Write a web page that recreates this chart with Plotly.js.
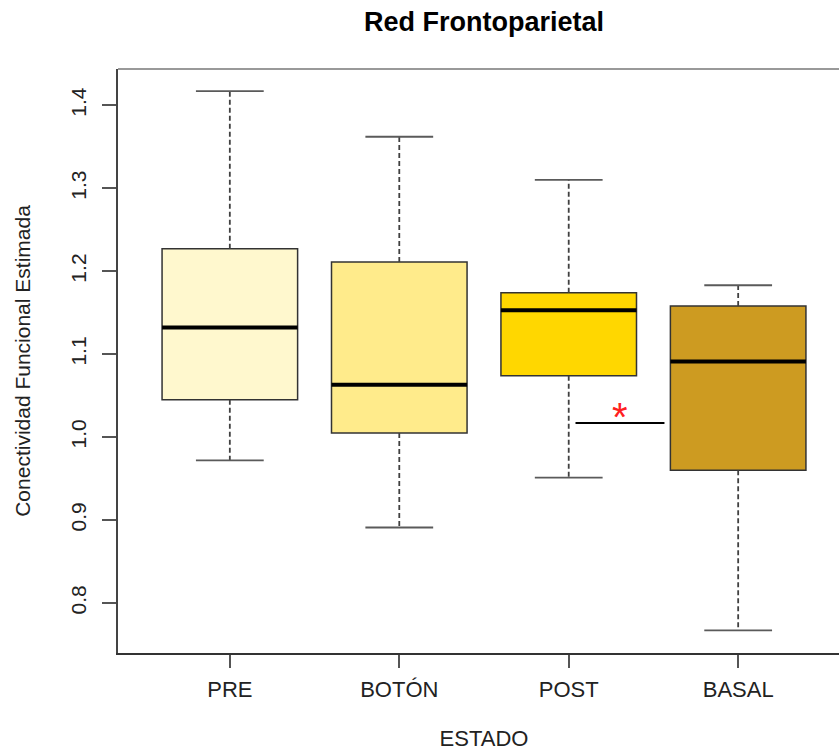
<!DOCTYPE html>
<html>
<head>
<meta charset="utf-8">
<script src="https://cdn.plot.ly/plotly-3.0.1.min.js"></script>
<style>
  html, body { margin: 0; padding: 0; overflow: hidden; background: #fff; }
  #chart { width: 860px; height: 752px; }
</style>
</head>
<body>
<div id="chart"></div>
<script>
// ---- data ----
const categories   = ['PRE', 'BOTÓN', 'POST', 'BASAL'];
const lowerWhisker = [0.972, 0.891, 0.951, 0.767];
const q1           = [1.045, 1.005, 1.074, 0.960];
const median       = [1.132, 1.063, 1.153, 1.091];
const q3           = [1.227, 1.211, 1.174, 1.158];
const upperWhisker = [1.417, 1.362, 1.310, 1.183];
const yTickValues  = [0.8, 0.9, 1.0, 1.1, 1.2, 1.3, 1.4];
// significance marker between POST and BASAL
const sigFrom = 3.04, sigTo = 3.565, sigY = 1.017, sigLabel = '*';

// ---- styles ----
const boxColors = ['#FFF8CE', '#FFEB8B', '#FFD700', '#CD9B21'];
const FONT = 'Liberation Sans, Arial, Helvetica, sans-serif';
const boxHalf = 0.4, capHalf = 0.2;

const xPos = categories.map((c, i) => i + 1);

// boxes as bars from q1 to q3
const boxes = {
  type: 'bar',
  x: xPos,
  base: q1,
  y: q3.map((v, i) => v - q1[i]),
  width: boxHalf * 2,
  marker: { color: boxColors, line: { color: '#333333', width: 1.5 } },
  hoverinfo: 'skip',
  showlegend: false
};

// whiskers (dashed)
const wx = [], wy = [];
xPos.forEach((x, i) => {
  wx.push(x, x, null, x, x, null);
  wy.push(q3[i], upperWhisker[i], null, q1[i], lowerWhisker[i], null);
});
const whiskers = {
  type: 'scatter', mode: 'lines', x: wx, y: wy,
  line: { color: '#404040', width: 1.8, dash: '5px,3px' },
  hoverinfo: 'skip', showlegend: false
};

// caps
const cx = [], cy = [];
xPos.forEach((x, i) => {
  cx.push(x - capHalf, x + capHalf, null, x - capHalf, x + capHalf, null);
  cy.push(upperWhisker[i], upperWhisker[i], null, lowerWhisker[i], lowerWhisker[i], null);
});
const caps = {
  type: 'scatter', mode: 'lines', x: cx, y: cy,
  line: { color: '#5a5a5a', width: 1.8 },
  hoverinfo: 'skip', showlegend: false
};

// medians
const mx = [], my = [];
xPos.forEach((x, i) => {
  mx.push(x - boxHalf, x + boxHalf, null);
  my.push(median[i], median[i], null);
});
const medians = {
  type: 'scatter', mode: 'lines', x: mx, y: my,
  line: { color: '#000000', width: 4 },
  hoverinfo: 'skip', showlegend: false
};

// significance bracket
const sig = {
  type: 'scatter', mode: 'lines',
  x: [sigFrom, sigTo], y: [sigY, sigY],
  line: { color: '#000000', width: 2 },
  hoverinfo: 'skip', showlegend: false
};

const layout = {
  width: 860, height: 752,
  margin: { l: 118, r: 10, t: 69, b: 99, pad: 0 },
  paper_bgcolor: '#ffffff', plot_bgcolor: '#ffffff',
  font: { family: FONT, color: '#222222', size: 21 },
  title: {
    text: 'Red Frontoparietal',
    font: { family: FONT, size: 27, color: '#000000', weight: 'bold' },
    xref: 'paper', x: 0.5, xanchor: 'center',
    yref: 'container', y: 1 - 22 / 752, yanchor: 'middle'
  },
  xaxis: {
    range: [0.34, 4.66],
    tickmode: 'array', tickvals: xPos, ticktext: categories,
    ticks: 'outside', ticklen: 13, tickwidth: 2, tickcolor: '#555555',
    showline: true, linecolor: '#333333', linewidth: 2,
    showgrid: false, zeroline: false,
    tickfont: { family: FONT, size: 22, color: '#222222' },
    ticklabelstandoff: 3,
    title: { text: 'ESTADO', font: { family: FONT, size: 22, color: '#222222' }, standoff: 29 }
  },
  yaxis: {
    range: [0.7397, 1.4437],
    tickmode: 'array', tickvals: yTickValues, tickformat: '.1f',
    ticks: 'outside', ticklen: 14, tickwidth: 2, tickcolor: '#555555',
    tickangle: -90,
    showline: true, linecolor: '#444444', linewidth: 2,
    showgrid: false, zeroline: false,
    tickfont: { family: FONT, size: 21, color: '#222222' },
    ticklabelstandoff: 8,
    title: { text: 'Conectividad Funcional Estimada', font: { family: FONT, size: 21, color: '#222222' }, standoff: 30 }
  },
  shapes: [
    { type: 'line', xref: 'paper', yref: 'paper', x0: 0, x1: 1, y0: 1, y1: 1,
      line: { color: '#999999', width: 2 } }
  ],
  annotations: [
    { x: (sigFrom + sigTo) / 2, y: sigY, xref: 'x', yref: 'y',
      text: sigLabel, showarrow: false, yanchor: 'bottom', yshift: -18,
      font: { family: FONT, size: 40, color: '#FF2020' } }
  ],
  bargap: 0
};

Plotly.newPlot('chart', [boxes, whiskers, caps, medians, sig], layout,
  { displayModeBar: false, staticPlot: true });
</script>
</body>
</html>
